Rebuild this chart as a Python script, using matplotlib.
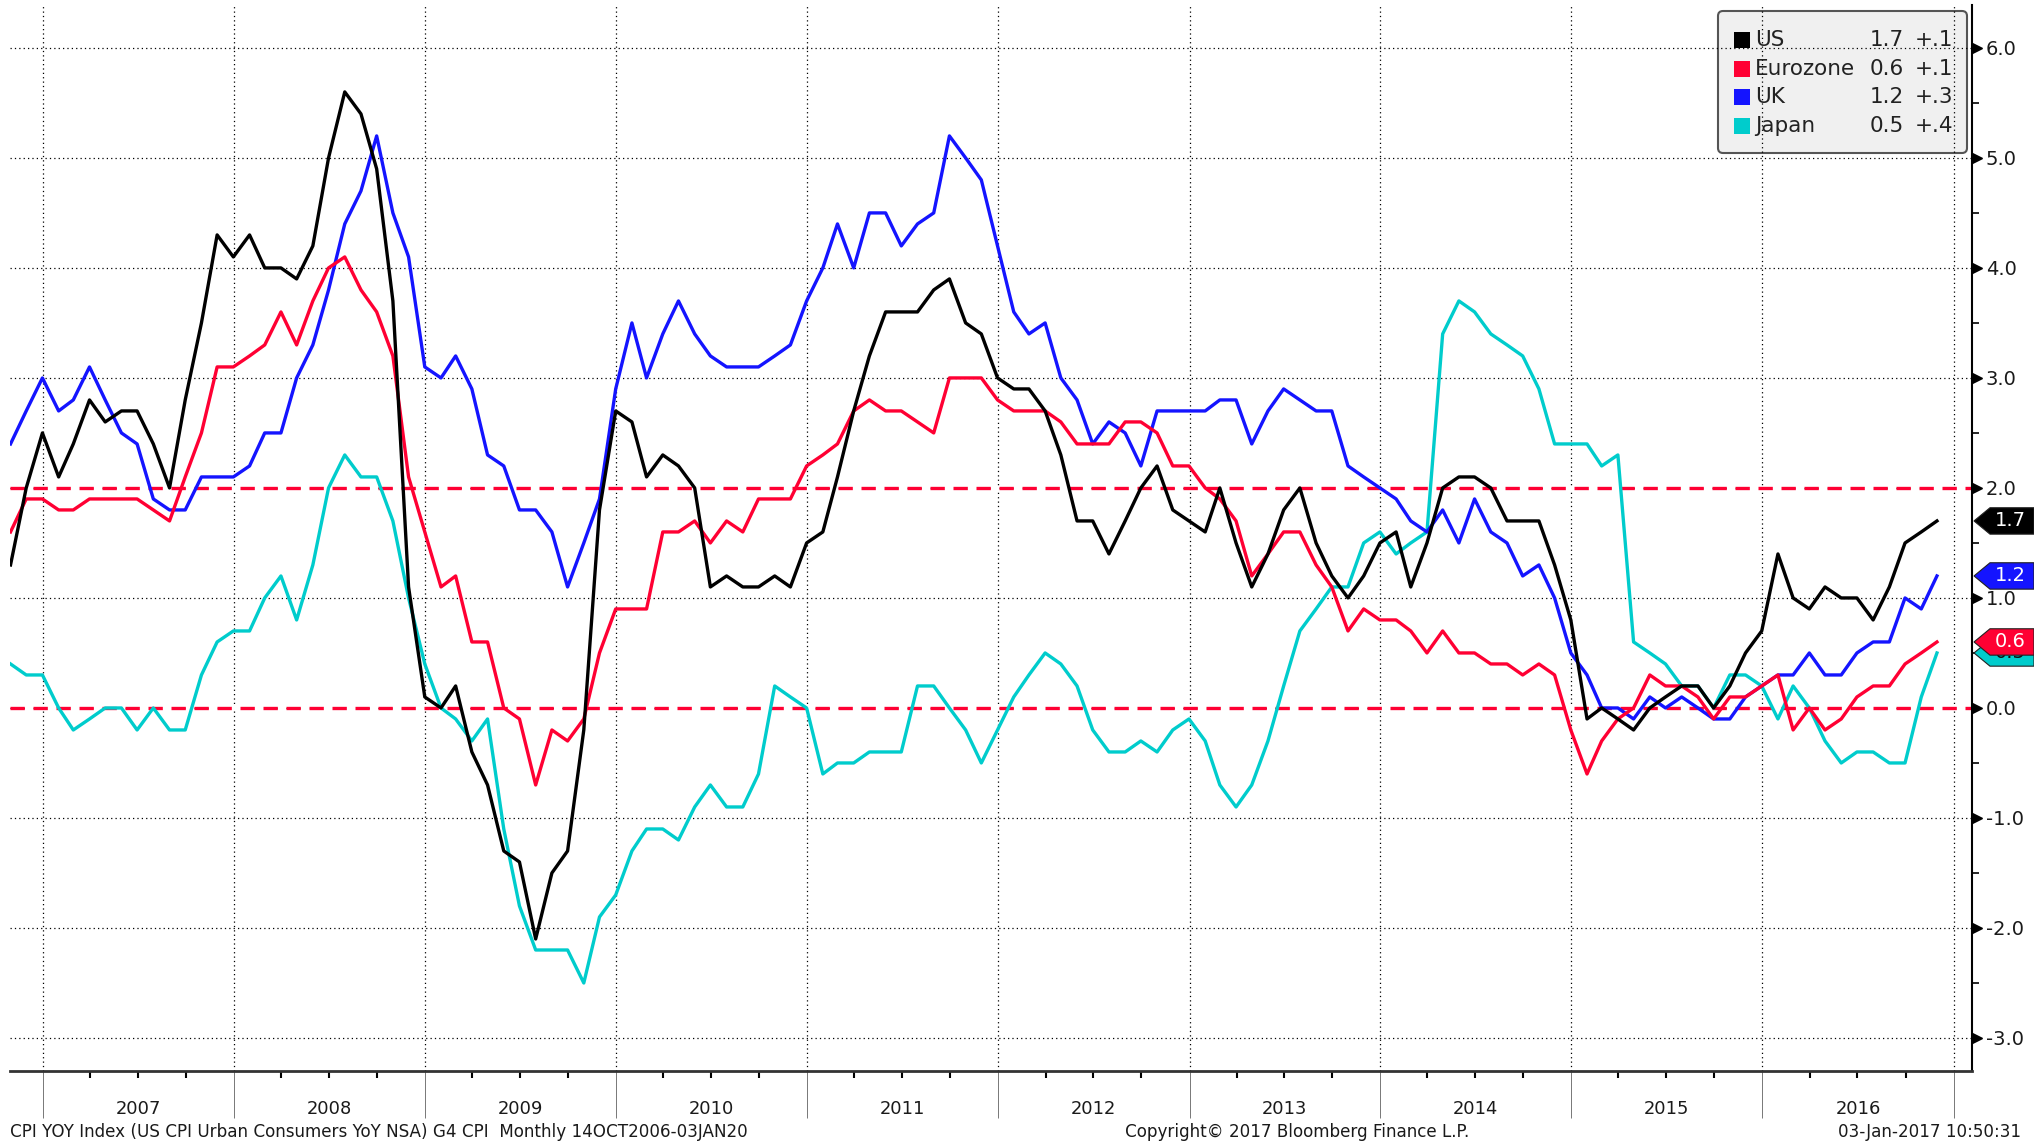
import numpy as np
import pandas as pd
import matplotlib
matplotlib.use("Agg")
import matplotlib.pyplot as plt
import matplotlib.dates as mdates
from matplotlib import transforms, font_manager
from matplotlib.patches import Polygon, FancyBboxPatch, Rectangle

W, H = 2034, 1146

# monthly CPI YoY, Oct 2006 .. Nov 2016
months = pd.date_range("2006-10-31", periods=122, freq="ME")

us = [1.3, 2.0, 2.5,
      2.1, 2.4, 2.8, 2.6, 2.7, 2.7, 2.4, 2.0, 2.8, 3.5, 4.3, 4.1,
      4.3, 4.0, 4.0, 3.9, 4.2, 5.0, 5.6, 5.4, 4.9, 3.7, 1.1, 0.1,
      0.0, 0.2, -0.4, -0.7, -1.3, -1.4, -2.1, -1.5, -1.3, -0.2, 1.8, 2.7,
      2.6, 2.1, 2.3, 2.2, 2.0, 1.1, 1.2, 1.1, 1.1, 1.2, 1.1, 1.5,
      1.6, 2.1, 2.7, 3.2, 3.6, 3.6, 3.6, 3.8, 3.9, 3.5, 3.4, 3.0,
      2.9, 2.9, 2.7, 2.3, 1.7, 1.7, 1.4, 1.7, 2.0, 2.2, 1.8, 1.7,
      1.6, 2.0, 1.5, 1.1, 1.4, 1.8, 2.0, 1.5, 1.2, 1.0, 1.2, 1.5,
      1.6, 1.1, 1.5, 2.0, 2.1, 2.1, 2.0, 1.7, 1.7, 1.7, 1.3, 0.8,
      -0.1, 0.0, -0.1, -0.2, 0.0, 0.1, 0.2, 0.2, 0.0, 0.2, 0.5, 0.7,
      1.4, 1.0, 0.9, 1.1, 1.0, 1.0, 0.8, 1.1, 1.5, 1.6, 1.7]

eurozone = [1.6, 1.9, 1.9,
            1.8, 1.8, 1.9, 1.9, 1.9, 1.9, 1.8, 1.7, 2.1, 2.5, 3.1, 3.1,
            3.2, 3.3, 3.6, 3.3, 3.7, 4.0, 4.1, 3.8, 3.6, 3.2, 2.1, 1.6,
            1.1, 1.2, 0.6, 0.6, 0.0, -0.1, -0.7, -0.2, -0.3, -0.1, 0.5, 0.9,
            0.9, 0.9, 1.6, 1.6, 1.7, 1.5, 1.7, 1.6, 1.9, 1.9, 1.9, 2.2,
            2.3, 2.4, 2.7, 2.8, 2.7, 2.7, 2.6, 2.5, 3.0, 3.0, 3.0, 2.8,
            2.7, 2.7, 2.7, 2.6, 2.4, 2.4, 2.4, 2.6, 2.6, 2.5, 2.2, 2.2,
            2.0, 1.9, 1.7, 1.2, 1.4, 1.6, 1.6, 1.3, 1.1, 0.7, 0.9, 0.8,
            0.8, 0.7, 0.5, 0.7, 0.5, 0.5, 0.4, 0.4, 0.3, 0.4, 0.3, -0.2,
            -0.6, -0.3, -0.1, 0.0, 0.3, 0.2, 0.2, 0.1, -0.1, 0.1, 0.1, 0.2,
            0.3, -0.2, 0.0, -0.2, -0.1, 0.1, 0.2, 0.2, 0.4, 0.5, 0.6]

uk = [2.4, 2.7, 3.0,
      2.7, 2.8, 3.1, 2.8, 2.5, 2.4, 1.9, 1.8, 1.8, 2.1, 2.1, 2.1,
      2.2, 2.5, 2.5, 3.0, 3.3, 3.8, 4.4, 4.7, 5.2, 4.5, 4.1, 3.1,
      3.0, 3.2, 2.9, 2.3, 2.2, 1.8, 1.8, 1.6, 1.1, 1.5, 1.9, 2.9,
      3.5, 3.0, 3.4, 3.7, 3.4, 3.2, 3.1, 3.1, 3.1, 3.2, 3.3, 3.7,
      4.0, 4.4, 4.0, 4.5, 4.5, 4.2, 4.4, 4.5, 5.2, 5.0, 4.8, 4.2,
      3.6, 3.4, 3.5, 3.0, 2.8, 2.4, 2.6, 2.5, 2.2, 2.7, 2.7, 2.7,
      2.7, 2.8, 2.8, 2.4, 2.7, 2.9, 2.8, 2.7, 2.7, 2.2, 2.1, 2.0,
      1.9, 1.7, 1.6, 1.8, 1.5, 1.9, 1.6, 1.5, 1.2, 1.3, 1.0, 0.5,
      0.3, 0.0, 0.0, -0.1, 0.1, 0.0, 0.1, 0.0, -0.1, -0.1, 0.1, 0.2,
      0.3, 0.3, 0.5, 0.3, 0.3, 0.5, 0.6, 0.6, 1.0, 0.9, 1.2]

japan = [0.4, 0.3, 0.3,
         0.0, -0.2, -0.1, 0.0, 0.0, -0.2, 0.0, -0.2, -0.2, 0.3, 0.6, 0.7,
         0.7, 1.0, 1.2, 0.8, 1.3, 2.0, 2.3, 2.1, 2.1, 1.7, 1.0, 0.4,
         0.0, -0.1, -0.3, -0.1, -1.1, -1.8, -2.2, -2.2, -2.2, -2.5, -1.9, -1.7,
         -1.3, -1.1, -1.1, -1.2, -0.9, -0.7, -0.9, -0.9, -0.6, 0.2, 0.1, 0.0,
         -0.6, -0.5, -0.5, -0.4, -0.4, -0.4, 0.2, 0.2, 0.0, -0.2, -0.5, -0.2,
         0.1, 0.3, 0.5, 0.4, 0.2, -0.2, -0.4, -0.4, -0.3, -0.4, -0.2, -0.1,
         -0.3, -0.7, -0.9, -0.7, -0.3, 0.2, 0.7, 0.9, 1.1, 1.1, 1.5, 1.6,
         1.4, 1.5, 1.6, 3.4, 3.7, 3.6, 3.4, 3.3, 3.2, 2.9, 2.4, 2.4,
         2.4, 2.2, 2.3, 0.6, 0.5, 0.4, 0.2, 0.2, 0.0, 0.3, 0.3, 0.2,
         -0.1, 0.2, 0.0, -0.3, -0.5, -0.4, -0.4, -0.5, -0.5, 0.1, 0.5]

names = ["US", "Eurozone", "UK", "Japan"]
series = [us, eurozone, uk, japan]
colors = ["#000000", "#ff0033", "#1414ff", "#00cccc"]
tag_text = ["white", "white", "white", "#111111"]
years = list(range(2007, 2017))
yticks = [-3, -2, -1, 0, 1, 2, 3, 4, 5, 6]
ref_lines = [0.0, 2.0]

footer_left = "CPI YOY Index (US CPI Urban Consumers YoY NSA) G4 CPI  Monthly 14OCT2006-03JAN20"
footer_mid = "Copyright\u00a9 2017 Bloomberg Finance L.P."
footer_right = "03-Jan-2017 10:50:31"

# narrow font for the axis years / footer if we have one
have = {f.name for f in font_manager.fontManager.ttflist}
if "Liberation Sans Narrow" in have:
    narrow, nscale = "Liberation Sans Narrow", 1.0
else:
    narrow, nscale = "DejaVu Sans", 0.86

fig = plt.figure(figsize=(W / 100, H / 100), dpi=100)
fig.patch.set_facecolor("white")
ax = fig.add_axes([10 / W, 1 - 1071 / H, (1972 - 10) / W, (1071 - 5) / H])
ax.patch.set_alpha(0)

def inch(x, y):
    # pixel position (top-left origin) -> inches for dpi_scale_trans
    return x / 100, (H - y) / 100

for name, vals, c in reversed(list(zip(names, series, colors))):
    ax.plot(months, vals, color=c, lw=2.4, zorder=3)

# red target/zero lines, white gaps so the dotted grid doesn't show through
for r in ref_lines:
    ax.axhline(r, color="#ff0033", lw=2.4, dashes=(4.3, 2.6), gapcolor="white", zorder=2)

ax.set_xlim(pd.Timestamp("2006-10-30"), pd.Timestamp("2017-02-05"))
ax.set_ylim(-3.3, 6.39)

ax.xaxis.set_major_locator(mdates.YearLocator())
ax.xaxis.set_minor_locator(mdates.MonthLocator(bymonth=[4, 7, 10]))
ax.xaxis.set_major_formatter(plt.NullFormatter())
ax.yaxis.tick_right()
ax.set_yticks(yticks)
ax.set_yticklabels([f"{v:.1f}" for v in yticks])
ax.set_yticks(np.arange(-2.5, 6.0, 1.0), minor=True)

ax.grid(True, which="major", color="black", linestyle=(0, (1, 2.5)), lw=0.9, zorder=1)
for s in ["left", "top"]:
    ax.spines[s].set_visible(False)
ax.spines["right"].set_linewidth(1.5)
ax.spines["bottom"].set_linewidth(2.0)
ax.spines["bottom"].set_color("#333333")

ax.tick_params(axis="y", which="major", length=3, width=1.2, pad=7,
               labelsize=14, labelcolor="#1a1a1a", direction="out")
ax.tick_params(axis="y", which="minor", length=5, width=1.2, direction="out")
ax.tick_params(axis="x", which="major", length=34, width=0.7, color="#777777", direction="out")
ax.tick_params(axis="x", which="minor", length=5, width=1.5, color="black", direction="out")

# little arrow heads on the right-hand ticks
tr = transforms.blended_transform_factory(ax.transAxes, ax.transData) + \
    transforms.ScaledTranslation(5 / 100, 0, fig.dpi_scale_trans)
ax.plot([1.0] * len(yticks), yticks, ls="none", marker=">", ms=7, color="black",
        transform=tr, clip_on=False)

# years centred between the year lines
ytr = transforms.blended_transform_factory(ax.transData, ax.transAxes)
for yr in years:
    ax.text(mdates.date2num(pd.Timestamp(f"{yr}-07-02")), -0.036, str(yr), transform=ytr,
            ha="center", va="center", fontsize=15 * nscale, family=narrow, color="#1a1a1a")

# last-value tags on the right axis
blend = transforms.blended_transform_factory(fig.transFigure, ax.transData)
order = [3, 1, 2, 0]  # japan under eurozone etc.
for z, i in enumerate(order):
    v = series[i][-1]
    h = 0.12
    x0, x1, x2 = 1974 / W, 1990 / W, 1.0
    poly = Polygon([(x0, v), (x1, v + h), (x2, v + h), (x2, v - h), (x1, v - h)],
                   closed=True, transform=blend, fc=colors[i], ec="#222222", lw=0.8,
                   zorder=5 + z)
    fig.add_artist(poly)
    fig.text(2010 / W, v, f"{v:.1f}", transform=blend, ha="center", va="center",
             fontsize=14, color=tag_text[i], zorder=5 + z)

# legend box (grid shows through it)
bx0, by0, bx1, by1 = 1718, 11, 1967, 153
leg = FancyBboxPatch(inch(bx0, by1), (bx1 - bx0) / 100, (by1 - by0) / 100,
                     boxstyle="round,pad=0,rounding_size=0.05", transform=fig.dpi_scale_trans,
                     fc="#f0f0f0", ec="#555555", lw=1.5, zorder=-1)
fig.add_artist(leg)
rows = [40, 69, 97, 126]
for name, vals, c, ry in zip(names, series, colors, rows):
    fig.add_artist(Rectangle(inch(1734, ry + 8), 0.16, 0.16, transform=fig.dpi_scale_trans,
                             fc=c, ec="none", zorder=2))
    chg = round(vals[-1] - vals[-2], 1)
    chg_s = f"{chg:+.1f}".replace("0.", ".")
    fig.text(*inch(1755, ry), name, transform=fig.dpi_scale_trans, ha="left", va="center",
             fontsize=15.5, color="#222222")
    fig.text(*inch(1904, ry), f"{vals[-1]:.1f}", transform=fig.dpi_scale_trans, ha="right",
             va="center", fontsize=15.5, color="#222222")
    fig.text(*inch(1953, ry), chg_s, transform=fig.dpi_scale_trans, ha="right", va="center",
             fontsize=15.5, color="#222222")

# footer
fs = 14 * nscale
fig.text(*inch(10, 1132), footer_left, transform=fig.dpi_scale_trans, ha="left", va="center",
         fontsize=fs, family=narrow, color="#1a1a1a")
fig.text(*inch(1125, 1132), footer_mid, transform=fig.dpi_scale_trans, ha="left", va="center",
         fontsize=fs, family=narrow, color="#1a1a1a")
fig.text(*inch(2021, 1132), footer_right, transform=fig.dpi_scale_trans, ha="right", va="center",
         fontsize=fs, family=narrow, color="#1a1a1a")

fig.savefig("out.png", dpi=100)
